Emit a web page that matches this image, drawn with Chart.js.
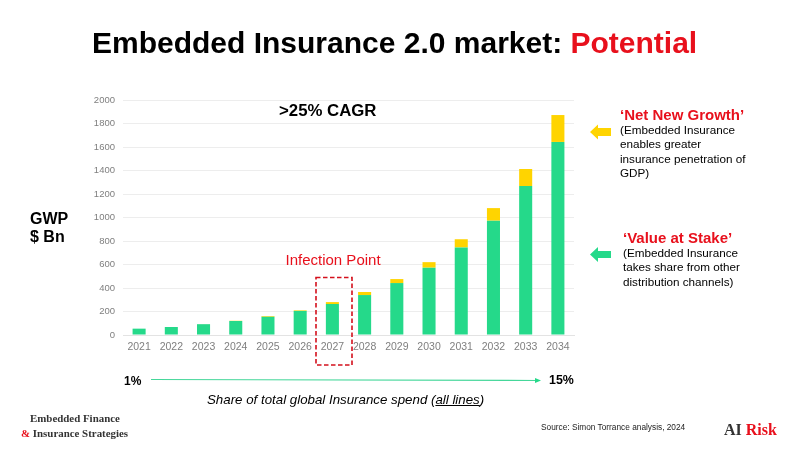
<!DOCTYPE html>
<html><head><meta charset="utf-8">
<script src="https://cdn.jsdelivr.net/npm/chart.js@4/dist/chart.umd.js"></script>
<style>
html,body{margin:0;padding:0;background:#fff;width:800px;height:450px;overflow:hidden}
#wrap{position:relative;width:800px;height:450px;font-family:"Liberation Sans",Arial,sans-serif}
canvas{position:absolute;left:0;top:0}
.t{position:absolute;white-space:nowrap;color:#000}
.red{color:#e8101c}
.serif{font-family:"Liberation Serif",serif;font-weight:bold;color:#333}
svg{position:absolute;left:0;top:0}
</style></head><body>
<div id="wrap">
<canvas id="c" width="800" height="450"></canvas>
<svg width="800" height="450">
<rect x="316" y="277.5" width="36" height="87.5" fill="none" stroke="#d4101c" stroke-width="1.6" stroke-dasharray="4.5 2.5"/>
<polygon points="590,132 598,124.5 598,128 611,128 611,136 598,136 598,139.5" fill="#ffd400"/>
<polygon points="590,254.5 598,247 598,251 611,251 611,258 598,258 598,262" fill="#25d98a"/>
<line x1="151" y1="379.5" x2="538" y2="380.5" stroke="#45d79a" stroke-width="1.2"/>
<polygon points="541,380.5 535,378 535,383" fill="#25d98a"/>
</svg>
<div class="t" style="left:92px;top:25px;font-size:30px;font-weight:bold;line-height:36px">Embedded Insurance 2.0 market: <span class="red">Potential</span></div>
<div class="t" style="left:279px;top:101px;font-size:16.8px;font-weight:bold;line-height:20px">&gt;25% CAGR</div>
<div class="t" style="left:30px;top:210px;font-size:16px;font-weight:bold;line-height:18px">GWP<br>$ Bn</div>
<div class="t red" style="left:285.5px;top:251px;font-size:15px;line-height:18px">Infection Point</div>
<div class="t red" style="left:620px;top:107px;font-size:15px;font-weight:bold;line-height:16px">‘Net New Growth’</div>
<div class="t" style="left:620px;top:123px;font-size:11.7px;line-height:14.3px">(Embedded Insurance<br>enables greater<br>insurance penetration of<br>GDP)</div>
<div class="t red" style="left:623px;top:230px;font-size:15px;font-weight:bold;line-height:16px">‘Value at Stake’</div>
<div class="t" style="left:623px;top:246px;font-size:11.7px;line-height:14.3px">(Embedded Insurance<br>takes share from other<br>distribution channels)</div>
<div class="t" style="left:124px;top:373px;font-size:12px;font-weight:bold;line-height:16px">1%</div>
<div class="t" style="left:549px;top:372px;font-size:12.4px;font-weight:bold;line-height:16px">15%</div>
<div class="t" style="left:207px;top:392px;font-size:13.3px;font-style:italic;line-height:16px">Share of total global Insurance spend (<u>all lines</u>)</div>
<div class="t" style="left:541px;top:422px;font-size:8.3px;line-height:11px;color:#222">Source: Simon Torrance analysis, 2024</div>
<div class="t serif" style="left:30px;top:411px;font-size:10.9px;line-height:14px">Embedded Finance</div>
<div class="t serif" style="left:21px;top:426px;font-size:10.9px;line-height:14px"><span class="red">&amp;</span> Insurance Strategies</div>
<div class="t serif" style="left:724px;top:421px;font-size:16px;line-height:18px">AI <span class="red">Risk</span></div>
</div>
<script>
const years = ["2021","2022","2023","2024","2025","2026","2027","2028","2029","2030","2031","2032","2033","2034"];
const valueAtStake = [54,68,92,119,155,205,264,340,442,573,745,973,1268,1643];
const netNewGrowth = [0,0,1,2,6,5,16,26,34,47,70,107,145,229];
new Chart(document.getElementById('c'),{
  type:'bar',
  data:{labels:years,datasets:[
    {label:'Value at Stake',data:valueAtStake,backgroundColor:'#25d98a',stack:'s',categoryPercentage:1,barPercentage:0.405},
    {label:'Net New Growth',data:netNewGrowth,backgroundColor:'#ffd400',stack:'s',categoryPercentage:1,barPercentage:0.405}
  ]},
  options:{
    responsive:false,animation:false,
    layout:{padding:{left:90,right:226,top:100,bottom:90}},
    plugins:{legend:{display:false},title:{display:false},tooltip:{enabled:false}},
    scales:{
      x:{stacked:true,
        afterFit(s){s.height=25},
        grid:{display:false,tickLength:0},border:{display:true,color:'#e3e3e3'},
        ticks:{color:'#7f7f7f',font:{family:'"Liberation Sans"',size:10.5},padding:6,maxRotation:0,autoSkip:false}},
      y:{stacked:true,min:0,max:2000,
        afterFit(s){s.width=33},
        grid:{color:'#ededed',drawTicks:false},border:{display:false},
        ticks:{stepSize:200,color:'#7f7f7f',font:{family:'"Liberation Sans"',size:9.5},padding:8,callback:v=>String(v)}}
    }
  }
});
</script>
</body></html>
